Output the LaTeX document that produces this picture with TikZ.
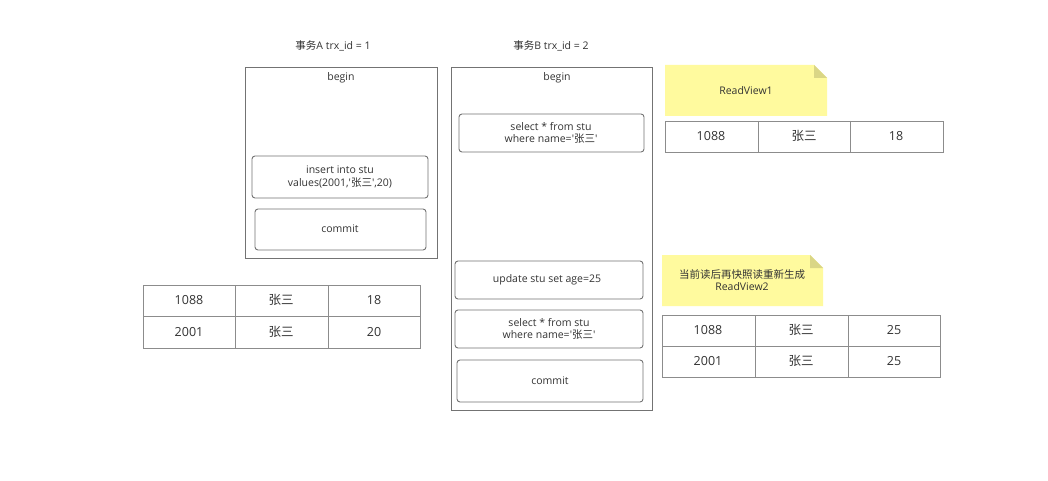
\documentclass[tikz,border=0pt]{standalone}
\usepackage{fontspec}
\setmainfont{Open Sans}[Ligatures=TeXOff]
\newfontfamily\cjk{Noto Sans CJK SC}
\newcommand{\zs}{{\cjk 张三}}
\begin{document}
\begin{tikzpicture}[x=1pt,y=-1pt,
  lbl/.style={text=black!80,font=\fontsize{10.5}{12.5}\selectfont,align=center,inner sep=0pt},
  tlbl/.style={text=black!80,font=\fontsize{12.5}{14}\selectfont,align=center,inner sep=0pt},
  frame/.style={draw=black!55,line width=0.9pt},
  stepbox/.style={draw=black!55,line width=0.9pt,rounded corners=3pt},
  cell/.style={draw=black!45,line width=0.8pt},
  notecol/.style={fill=yellow!38!white},
  foldcol/.style={fill=black!30!yellow!55!white}
]
\useasboundingbox (0,0) rectangle (1048,481);
\fill[white] (0,0) rectangle (1048,481);
% titles
\node[lbl] (ta) at (333,46) {{\cjk 事务}A trx\_id = 1};
\node[lbl] (tb) at (551,46) {{\cjk 事务}B trx\_id = 2};
% transaction A
\draw[frame] (245,67) rectangle (437,258);
\node[lbl] (abeg) at (341,78) {begin};
\draw[stepbox] (252,156) rectangle (428,198);
\node[lbl] (ains) at (340,177) {insert into stu\\values(2001,'\zs',20)};
\draw[stepbox] (255,209) rectangle (426,250);
\node[lbl] (acom) at (340,229) {commit};
% transaction B
\draw[frame] (451,67) rectangle (652,410);
\node[lbl] (bbeg) at (557,78) {begin};
\draw[stepbox] (459,114) rectangle (644,152);
\node[lbl] (bsel1) at (551,133) {select * from stu\\where name='\zs'};
\draw[stepbox] (455,261) rectangle (643,299);
\node[lbl] (bupd) at (547,280) {update stu set age=25};
\draw[stepbox] (455,310) rectangle (643,348);
\node[lbl] (bsel2) at (549,329) {select * from stu\\where name='\zs'};
\draw[stepbox] (457,360) rectangle (643,402);
\node[lbl] (bcom) at (550,381) {commit};
% note 1
\fill[notecol] (665,65) -- (814,65) -- (827,78) -- (827,116) -- (665,116) -- cycle;
\fill[foldcol] (814,65) -- (827,78) -- (814,78) -- cycle;
\node[lbl] (rv1) at (746,91) {ReadView1};
% table 1
\draw[cell] (665,121) rectangle (943,152);
\draw[cell] (758,121) -- (758,152) (850,121) -- (850,152);
\node[tlbl] at (711,136) {1088};
\node[tlbl] at (804,136) {\zs};
\node[tlbl] at (896,136) {18};
% note 2
\fill[notecol] (662,255) -- (810,255) -- (823,268) -- (823,306) -- (662,306) -- cycle;
\fill[foldcol] (810,255) -- (823,268) -- (810,268) -- cycle;
\node[lbl] (rv2) at (742,280) {{\cjk 当前读后再快照读重新生成}\\ReadView2};
% table 3
\draw[cell] (662,315) rectangle (940,377);
\draw[cell] (662,346) -- (940,346) (755,315) -- (755,377) (848,315) -- (848,377);
\node[tlbl] at (708,330) {1088};
\node[tlbl] at (801,330) {\zs};
\node[tlbl] at (894,330) {25};
\node[tlbl] at (708,361) {2001};
\node[tlbl] at (801,361) {\zs};
\node[tlbl] at (894,361) {25};
% table left
\draw[cell] (143,285) rectangle (420,348);
\draw[cell] (143,316) -- (420,316) (235,285) -- (235,348) (328,285) -- (328,348);
\node[tlbl] at (189,300) {1088};
\node[tlbl] at (281,300) {\zs};
\node[tlbl] at (374,300) {18};
\node[tlbl] at (189,332) {2001};
\node[tlbl] at (281,332) {\zs};
\node[tlbl] at (374,332) {20};
\end{tikzpicture}
\end{document}
